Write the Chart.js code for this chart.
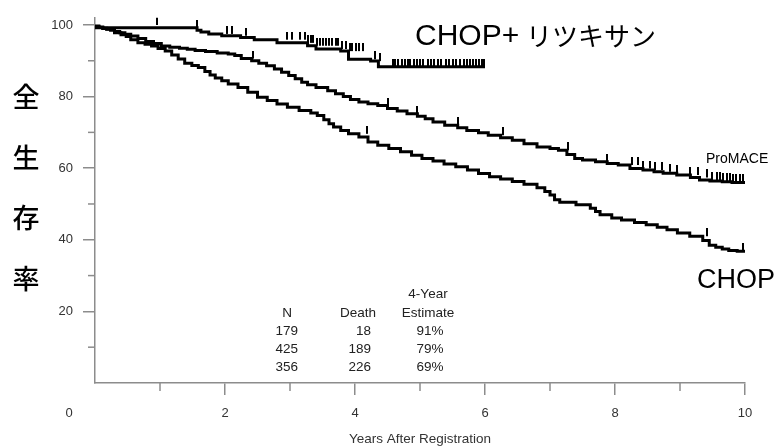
<!DOCTYPE html>
<html><head><meta charset="utf-8">
<script src="https://cdn.jsdelivr.net/npm/chart.js@4.4.0/dist/chart.umd.min.js"></script>
<style>html,body{margin:0;padding:0;background:#fff;}#wrap{width:784px;height:447px;}</style>
</head><body><div id="wrap"><canvas id="c" width="784" height="447"></canvas></div>
<script>
// ---- data ----
const rituxTimes = [0, 1.57, 1.63, 1.75, 1.95, 2.24, 2.45, 2.80, 3.27, 3.40, 3.78, 3.90, 4.24, 4.36, 4.55, 6.0];
const rituxSurv  = [100, 99.2, 98.5, 98.0, 97.5, 97.0, 96.5, 95.9, 95.0, 94.2, 93.3, 92.7, 90.4, 89.9, 88.3, 88.3];
const rituxCensor = [0.95, 1.57, 2.03, 2.10, 2.33, 2.96, 3.03, 3.15, 3.23, 3.28, 3.32, 3.36, 3.42, 3.46, 3.50, 3.55, 3.60, 3.65, 3.70, 3.74, 3.80, 3.86, 3.92, 3.96, 4.02, 4.06, 4.12, 4.30, 4.39,
  4.58, 4.61, 4.66, 4.72, 4.77, 4.82, 4.85, 4.90, 4.95, 5.0, 5.05, 5.12, 5.17, 5.22, 5.27, 5.33, 5.40, 5.45, 5.50, 5.56, 5.62, 5.68, 5.73, 5.77, 5.81, 5.86, 5.90, 5.95, 5.99];

const promaceTimes = [
  0, 0.06, 0.12, 0.18, 0.24, 0.30, 0.38, 0.46, 0.55, 0.66,
  0.78, 0.90, 1.02, 1.15, 1.30, 1.42, 1.54, 1.70, 1.88, 2.05,
  2.15, 2.25, 2.41, 2.52, 2.64, 2.76, 2.87, 2.98, 3.08, 3.18,
  3.27, 3.40, 3.58, 3.70, 3.82, 3.93, 4.06, 4.20, 4.35, 4.50,
  4.65, 4.80, 4.96, 5.08, 5.20, 5.38, 5.58, 5.72, 5.90, 6.05,
  6.24, 6.42, 6.60, 6.80, 7.00, 7.13, 7.26, 7.38, 7.50, 7.70,
  7.88, 8.05, 8.23, 8.43, 8.60, 8.74, 8.95, 9.16, 9.30, 9.46,
  9.65, 9.80, 9.90, 10.0];
const promaceSurv = [
  100, 99.7, 99.4, 99.1, 98.9, 98.7, 98.2, 97.8, 97.4, 96.9,
  96.2, 95.4, 94.8, 94.1, 93.8, 93.5, 93.2, 92.9, 92.6, 92.2,
  91.9, 91.5, 90.6, 90.0, 89.3, 88.6, 87.7, 86.8, 85.9, 85.0,
  84.0, 83.3, 82.5, 81.6, 80.8, 80.0, 79.2, 78.5, 78.0, 77.5,
  76.7, 76.0, 75.2, 74.5, 73.8, 72.9, 72.0, 71.3, 70.5, 69.9,
  69.2, 68.5, 67.8, 66.8, 65.9, 65.5, 65.0, 63.8, 62.7, 62.3,
  61.8, 61.3, 60.9, 59.9, 59.5, 59.0, 58.6, 58.1, 57.4, 56.7,
  56.4, 56.2, 56.0, 56.0];
const promaceCensor = [2.43, 4.50, 4.96, 5.59, 6.27, 7.27, 7.88, 8.26, 8.36, 8.43, 8.54, 8.62, 8.72, 8.85, 8.96, 9.16, 9.28, 9.42, 9.49, 9.57, 9.62, 9.66, 9.72, 9.77, 9.82, 9.86, 9.92, 9.97];

const chopTimes = [
  0, 0.06, 0.12, 0.18, 0.24, 0.30, 0.40, 0.48, 0.55, 0.66,
  0.77, 0.87, 0.97, 1.08, 1.18, 1.28, 1.38, 1.49, 1.59, 1.69,
  1.77, 1.85, 1.95, 2.05, 2.20, 2.35, 2.50, 2.65, 2.80, 2.96,
  3.14, 3.32, 3.42, 3.52, 3.60, 3.67, 3.78, 3.90, 4.06, 4.20,
  4.35, 4.52, 4.70, 4.87, 5.03, 5.20, 5.37, 5.55, 5.73, 5.90,
  6.07, 6.24, 6.42, 6.60, 6.80, 6.92, 7.00, 7.07, 7.15, 7.40,
  7.62, 7.70, 7.77, 7.95, 8.10, 8.30, 8.48, 8.65, 8.80, 8.96,
  9.15, 9.35, 9.45, 9.55, 9.65, 9.75, 9.88, 10.0];
const chopSurv = [
  100, 99.6, 99.3, 99.0, 98.8, 98.5, 97.8, 97.3, 96.8, 95.9,
  95.0, 94.6, 94.1, 93.4, 92.7, 91.6, 90.5, 89.3, 88.7, 88.1,
  87.0, 86.0, 85.2, 84.4, 83.5, 82.5, 81.2, 79.8, 78.9, 77.9,
  77.0, 76.1, 75.4, 74.7, 73.5, 72.4, 71.5, 70.5, 69.6, 68.7,
  67.3, 66.4, 65.5, 64.6, 63.6, 62.7, 62.0, 61.2, 60.4, 59.5,
  58.5, 57.6, 57.0, 56.3, 55.5, 54.5, 53.5, 52.5, 51.2, 50.5,
  49.8, 48.8, 47.9, 47.0, 46.1, 45.5, 44.8, 44.2, 43.5, 42.8,
  41.9, 41.0, 39.8, 38.5, 37.9, 37.4, 37.0, 36.8];
const chopCensor = [4.19, 9.42, 9.97];

const xTickValues = [2, 4, 6, 8, 10];
const xMinorValues = [1, 3, 5, 7, 9];
const yTickValues = [20, 40, 60, 80, 100];
const yMinorValues = [10, 30, 50, 70, 90];

const tableN = [179, 425, 356];
const tableDeath = [18, 189, 226];
const tableEstimate = ['91%', '79%', '69%'];

const labelRitux = 'CHOP+';
const labelRituxJa = 'リツキサン';
const labelPromace = 'ProMACE';
const labelChop = 'CHOP';
const yTitleChars = ['全', '生', '存', '率'];
const xTitle = 'Years After Registration';

// ---- helpers ----
const FONT = '"Liberation Sans", Arial, sans-serif';
const CJK = '"Noto Sans CJK JP", sans-serif';
const AXIS = '#8c8c8c';
const TXT = '#222';

function curve(times, surv) { return times.map((t, i) => ({x: t, y: surv[i]})); }
function survAt(times, surv, t) {
  let v = surv[0];
  for (let i = 0; i < times.length; i++) { if (times[i] <= t) v = surv[i]; }
  return v;
}
function censorPts(cens, times, surv) { return cens.map(t => ({x: t, y: survAt(times, surv, t)})); }

const tick = document.createElement('canvas');
tick.width = 2; tick.height = 16;
(function(){ const g = tick.getContext('2d'); g.fillStyle = '#000'; g.fillRect(0, 0, 2, 8); })();

const lineDs = (data) => ({type: 'line', data, stepped: 'after', borderColor: '#000', borderWidth: 3, pointRadius: 0, fill: false, order: 2});
const censDs = (data) => ({type: 'scatter', data, showLine: false, pointStyle: tick, pointRadius: 8, order: 1});

const annot = {
  id: 'annot',
  afterDraw(chart) {
    const ctx = chart.ctx, xs = chart.scales.x, ys = chart.scales.y, ca = chart.chartArea;
    ctx.save();
    ctx.strokeStyle = AXIS; ctx.lineWidth = 1.5;
    yMinorValues.forEach(v => { const p = ys.getPixelForValue(v); ctx.beginPath(); ctx.moveTo(ca.left - 7, p); ctx.lineTo(ca.left, p); ctx.stroke(); });
    xMinorValues.forEach(v => { const p = xs.getPixelForValue(v); ctx.beginPath(); ctx.moveTo(p, ca.bottom); ctx.lineTo(p, ca.bottom + 8); ctx.stroke(); });

    ctx.fillStyle = '#333';
    ctx.font = '13px ' + FONT; ctx.textAlign = 'center'; ctx.textBaseline = 'middle';
    ctx.fillText('0', xs.getPixelForValue(0) - 26, 413);

    // y title
    ctx.fillStyle = '#000';
    ctx.font = '500 27px ' + CJK; ctx.textAlign = 'center'; ctx.textBaseline = 'middle';
    yTitleChars.forEach((c, i) => ctx.fillText(c, 26, 97 + i * 60.5));

    // curve labels
    ctx.textAlign = 'left'; ctx.textBaseline = 'alphabetic';
    ctx.font = '30px ' + FONT; ctx.fillText(labelRitux, 415, 45);
    ctx.font = '26px ' + CJK; ctx.fillText(labelRituxJa, 526, 46);
    ctx.font = '14px ' + FONT; ctx.fillText(labelPromace, 706, 163);
    ctx.font = '27px ' + FONT; ctx.fillText(labelChop, 697, 288);

    // table
    ctx.fillStyle = TXT; ctx.font = '13.5px ' + FONT; ctx.textBaseline = 'middle';
    ctx.textAlign = 'center';
    ctx.fillText('4-Year', 428, 294);
    ctx.fillText('N', 287, 313); ctx.fillText('Death', 358, 313); ctx.fillText('Estimate', 428, 313);
    for (let i = 0; i < tableN.length; i++) {
      const y = 331 + i * 18;
      ctx.textAlign = 'right'; ctx.fillText(String(tableN[i]), 298, y); ctx.fillText(String(tableDeath[i]), 371, y);
      ctx.textAlign = 'center'; ctx.fillText(tableEstimate[i], 430, y);
    }
    ctx.restore();
  }
};

new Chart(document.getElementById('c'), {
  data: {
    datasets: [
      lineDs(curve(rituxTimes, rituxSurv)),
      lineDs(curve(promaceTimes, promaceSurv)),
      lineDs(curve(chopTimes, chopSurv)),
      censDs(censorPts(rituxCensor, rituxTimes, rituxSurv)),
      censDs(censorPts(promaceCensor, promaceTimes, promaceSurv)),
      censDs(censorPts(chopCensor, chopTimes, chopSurv))
    ]
  },
  options: {
    responsive: false, animation: false, devicePixelRatio: 1,
    layout: {padding: {left: 0, right: 39, top: 15, bottom: 0}},
    plugins: {legend: {display: false}, tooltip: {enabled: false}},
    scales: {
      x: {
        type: 'linear', min: 0, max: 10,
        afterBuildTicks: s => { s.ticks = xTickValues.map(v => ({value: v})); },
        afterFit: s => { s.height = 64; },
        ticks: {font: {size: 13, family: FONT}, color: '#333', padding: 11, maxRotation: 0, autoSkip: false},
        title: {display: true, text: xTitle, font: {size: 13.5, family: FONT}, color: '#333', padding: {top: 0, bottom: 0}},
        grid: {display: true, drawOnChartArea: false, drawTicks: true, tickLength: 12, color: AXIS, lineWidth: 1.5},
        border: {display: true, color: AXIS, width: 1.5}
      },
      y: {
        type: 'linear', min: 0, max: 102,
        afterBuildTicks: s => { s.ticks = yTickValues.map(v => ({value: v})); },
        afterFit: s => { s.width = 95; },
        ticks: {font: {size: 13, family: FONT}, color: '#333', padding: 10},
        grid: {display: true, drawOnChartArea: false, drawTicks: true, tickLength: 12, color: AXIS, lineWidth: 1.5},
        border: {display: true, color: AXIS, width: 1.5}
      }
    }
  },
  plugins: [annot]
});
</script></body></html>
